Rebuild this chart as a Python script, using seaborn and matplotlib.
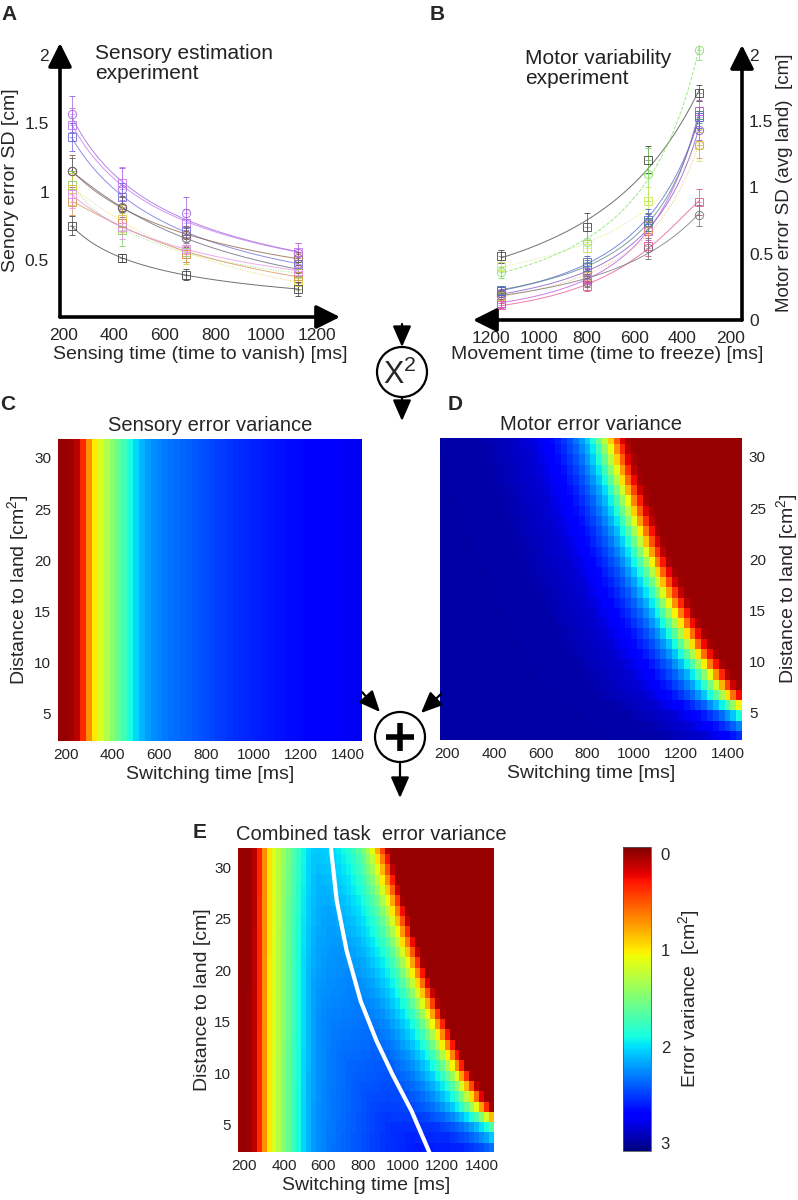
import numpy as np
import pandas as pd
import matplotlib
matplotlib.use("Agg")
import matplotlib.pyplot as plt
import seaborn as sns
from matplotlib.colors import Normalize
from matplotlib.cm import ScalarMappable
from matplotlib.patches import Circle

sns.set_style("white")
plt.rcParams['font.family'] = ['Liberation Sans', 'DejaVu Sans']
plt.rcParams['mathtext.fontset'] = 'custom'
plt.rcParams['mathtext.rm'] = 'Liberation Sans'
plt.rcParams['mathtext.it'] = 'Liberation Sans:italic'

# ---------------- Panel A : sensory estimation experiment ----------------
sense_times = [233, 433, 683, 1125]
sense_markers = ['o', 's', 's', 'o', 'o', 's', 's', 's', 's', 's']
sense_colors = ['#9a5fd6', '#c070f0', '#6a6ad8', '#8a5a40', '#606070',
                '#7fd65a', '#d8cc40', '#d89050', '#e090e8', '#404040']
sense_styles = ['-', '-', '-', '-', '-', ':', ':', '-', '-', '-']
sense_sd = [
    [1.57, 1.02, 0.84, 0.55],
    [1.49, 1.06, 0.77, 0.56],
    [1.40, 0.96, 0.71, 0.47],
    [1.15, 0.89, 0.68, 0.51],
    [1.15, 0.88, 0.66, 0.43],
    [1.05, 0.72, 0.56, 0.40],
    [1.02, 0.80, 0.54, 0.34],
    [0.92, 0.77, 0.54, 0.38],
    [0.98, 0.74, 0.58, 0.42],
    [0.75, 0.51, 0.39, 0.285],
]
sense_err = [
    [0.13, 0.15, 0.12, 0.07],
    [0.12, 0.12, 0.10, 0.06],
    [0.10, 0.10, 0.09, 0.06],
    [0.12, 0.08, 0.07, 0.05],
    [0.10, 0.08, 0.07, 0.05],
    [0.10, 0.12, 0.08, 0.05],
    [0.12, 0.10, 0.07, 0.06],
    [0.09, 0.08, 0.06, 0.05],
    [0.10, 0.09, 0.07, 0.05],
    [0.07, 0.03, 0.04, 0.05],
]

# ---------------- Panel B : motor variability experiment ----------------
move_times = [1160, 800, 545, 330]
move_markers = ['s', 'o', 's', 's', 'o', 's', 'o', 's', 'o', 's']
move_colors = ['#404040', '#80e060', '#c8e850', '#5060d8', '#8050c8',
               '#c050e0', '#e0a040', '#e05090', '#707070', '#508080']
move_styles = ['-', '--', ':', '-', '-', '-', ':', '-', '-', '-']
move_sd = [
    [0.48, 0.705, 1.21, 1.71],
    [0.36, 0.59, 1.10, 2.04],
    [0.41, 0.545, 0.90, 1.32],
    [0.22, 0.436, 0.755, 1.53],
    [0.20, 0.344, 0.73, 1.43],
    [0.13, 0.31, 0.67, 1.58],
    [0.18, 0.33, 0.67, 1.32],
    [0.11, 0.257, 0.56, 0.89],
    [0.19, 0.29, 0.54, 0.79],
    [0.23, 0.40, 0.74, 1.55],
]
move_err = [
    [0.05, 0.10, 0.10, 0.06],
    [0.04, 0.08, 0.20, 0.08],
    [0.04, 0.06, 0.10, 0.12],
    [0.03, 0.05, 0.08, 0.08],
    [0.03, 0.05, 0.07, 0.07],
    [0.03, 0.04, 0.07, 0.08],
    [0.03, 0.04, 0.08, 0.10],
    [0.02, 0.04, 0.08, 0.10],
    [0.03, 0.04, 0.08, 0.08],
    [0.03, 0.05, 0.07, 0.06],
]

# ---------------- Heat-map data ----------------
switch_times = [175, 200, 225, 250, 275, 300, 325, 350, 375, 400, 425, 450, 475,
                500, 525, 550, 575, 600, 625, 650, 675, 700, 725, 750, 775, 800,
                825, 850, 875, 900, 925, 950, 975, 1000, 1025, 1050, 1075, 1100,
                1125, 1150, 1175, 1200, 1225, 1250, 1275, 1300, 1325, 1350, 1375,
                1400, 1425, 1450]
# colour-scale value of sensory error variance per switching-time column
sensory_var = [0.00, 0.00, 0.02, 0.10, 0.35, 0.70, 1.00, 1.15, 1.30, 1.45, 1.60,
               1.75, 1.88, 2.02, 2.13, 2.20, 2.25, 2.28, 2.31, 2.33, 2.35, 2.37,
               2.39, 2.41, 2.43, 2.45, 2.47, 2.49, 2.51, 2.53, 2.55, 2.56, 2.57,
               2.58, 2.60, 2.61, 2.62, 2.63, 2.64, 2.65, 2.66, 2.67, 2.68, 2.69,
               2.70, 2.71, 2.72, 2.73, 2.74, 2.75, 2.76, 2.77]
distances = [2.75, 3.75, 4.75, 5.75, 6.75, 7.75, 8.75, 9.75, 10.75, 11.75, 12.75,
             13.75, 14.75, 15.75, 16.75, 17.75, 18.75, 19.75, 20.75, 21.75, 22.75,
             23.75, 24.75, 25.75, 26.75, 27.75, 28.75, 29.75, 30.75, 31.75]
# switching time at which the motor variance saturates (red edge), per distance row
motor_edge = [1700, 1630, 1570, 1500, 1445, 1410, 1378, 1348, 1320, 1294, 1270,
              1246, 1224, 1203, 1182, 1162, 1143, 1124, 1106, 1089, 1072, 1055,
              1040, 1025, 1010, 994, 980, 966, 953, 940]
# colour-scale value of motor variance versus time offset from that edge
motor_offset = [-1000, -600, -400, -300, -250, -200, -150, -125, -100, -75, -50, -25, 0, 25, 50]
motor_profile = [2.98, 2.96, 2.85, 2.68, 2.55, 2.38, 2.12, 1.93, 1.70, 1.40, 1.05, 0.65, 0.30, 0.05, 0.0]
motor_floor = 2.98

# optimal switching time curve (white line, panel E)
opt_dist = [31.8, 26.75, 21.9, 17.0, 13.1, 9.87, 6.3, 2.24]
opt_time = [638, 667, 717, 788, 869, 949, 1046, 1137]

# ---------------- build grids ----------------
st = np.array(switch_times, float)
C = np.tile(np.array(sensory_var), (len(distances), 1))
D = np.array([np.interp(st - e, motor_offset, motor_profile) for e in motor_edge])
E = np.clip(C + D - motor_floor, 0, 3)
x_edges = np.append(st - 12.5, st[-1] + 12.5)
dd = np.array(distances)
y_edges = np.append(dd - 0.5, dd[-1] + 0.5)

norm = Normalize(vmin=-0.07, vmax=3.08)
cmap = plt.get_cmap('jet_r')

W, H = 798, 1200
fig = plt.figure(figsize=(W / 100, H / 100), dpi=100)


def fa(l, t, r, b):
    return fig.add_axes([l / W, 1 - b / H, (r - l) / W, (b - t) / H])


def fit_curve(t, y):
    t = np.array(t, float); y = np.array(y, float)
    coef = np.polyfit(np.log(t), np.log(y), 2)
    tt = np.linspace(t.min(), t.max(), 120)
    return tt, np.exp(np.polyval(coef, np.log(tt)))


def draw_subjects(ax, times, sds, errs, colors, markers, styles):
    for sd, er, c, m, ls in zip(sds, errs, colors, markers, styles):
        tt, yy = fit_curve(times, sd)
        sns.lineplot(x=tt, y=yy, color=c, lw=0.7, ls=ls, ax=ax, alpha=0.75)
        ax.errorbar(times, sd, yerr=er, fmt=m, mfc='none', mec=c, ms=6, mew=0.7,
                    ecolor=c, elinewidth=0.6, capsize=2, alpha=0.85)
        ax.plot(times, sd, '+', color=c, ms=4, mew=0.5, alpha=0.7)


arrow_kw = dict(arrowstyle='-|>,head_length=0.9,head_width=0.45', lw=2.6, color='k',
                shrinkA=0, shrinkB=0, mutation_scale=16)

# ---- Panel A ----
axA = fa(60, 43, 340, 317)
draw_subjects(axA, sense_times, sense_sd, sense_err, sense_colors, sense_markers, sense_styles)
axA.set_xlim(187, 1292)
axA.set_ylim(0.08, 2.09)
for s in axA.spines.values():
    s.set_visible(False)
axA.annotate('', xy=(0, 1), xytext=(0, 0), xycoords='axes fraction', arrowprops=arrow_kw)
axA.annotate('', xy=(1, 0), xytext=(0, 0), xycoords='axes fraction', arrowprops=arrow_kw)
axA.set_xticks([200, 400, 600, 800, 1000, 1200])
axA.set_xticklabels(['200', '400', '600', '800', '1000', '1200'])
axA.set_yticks([0.5, 1, 1.5, 2])
axA.set_yticklabels(['0.5', '1', '1.5', '2'])
axA.tick_params(length=0, labelsize=12.5, pad=8)
axA.set_xlabel('Sensing time (time to vanish) [ms]', fontsize=14, labelpad=2)
axA.set_ylabel('Senory error SD [cm]', fontsize=14, labelpad=4)
axA.text(0.125, 0.995, 'Sensory estimation\nexperiment', transform=axA.transAxes,
         fontsize=15, va='top', ha='left', color='#222222', linespacing=1.05)

# ---- Panel B ----
axB = fa(473, 45, 742, 320)
draw_subjects(axB, move_times, move_sd, move_err, move_colors, move_markers, move_styles)
axB.set_xlim(1277, 151)
axB.set_ylim(0.02, 2.075)
for s in axB.spines.values():
    s.set_visible(False)
axB.annotate('', xy=(1, 1), xytext=(1, 0), xycoords='axes fraction', arrowprops=arrow_kw)
axB.annotate('', xy=(0, 0), xytext=(1, 0), xycoords='axes fraction', arrowprops=arrow_kw)
axB.yaxis.tick_right()
axB.yaxis.set_label_position('right')
axB.set_xticks([1200, 1000, 800, 600, 400, 200])
axB.set_xticklabels(['1200', '1000', '800', '600', '400', '200'])
axB.set_yticks([0, 0.5, 1, 1.5, 2])
axB.set_yticklabels(['0', '0.5', '1', '1.5', '2'])
axB.tick_params(axis='x', length=0, labelsize=12.5, pad=8)
axB.tick_params(axis='y', length=0, labelsize=12.5, pad=5)
axB.set_xlabel('Movement time (time to freeze) [ms]', fontsize=14, labelpad=0)
axB.set_ylabel('Motor error SD (avg land)  [cm]', fontsize=13.5, labelpad=2)
axB.text(0.193, 0.985, 'Motor variability\nexperiment', transform=axB.transAxes,
         fontsize=15, va='top', ha='left', color='#222222', linespacing=1.05)


def heat(ax, Z, title, right=False, ylab='Distance to land [cm$^2$]'):
    ax.pcolormesh(x_edges, y_edges, Z, cmap=cmap, norm=norm, shading='flat', rasterized=True)
    ax.set_xlim(168, 1462)
    ax.set_ylim(2.35, 31.85)
    for s in ax.spines.values():
        s.set_visible(False)
    ax.set_xticks([200, 400, 600, 800, 1000, 1200, 1400])
    ax.set_xticklabels(['200', '400', '600', '800', '1000', '1200', '1400'])
    ax.set_yticks([5, 10, 15, 20, 25, 30])
    ax.set_yticklabels(['5', '10', '15', '20', '25', '30'])
    ax.tick_params(length=0, labelsize=11, pad=5)
    if right:
        ax.yaxis.tick_right()
        ax.yaxis.set_label_position('right')
    ax.set_xlabel('Switching time [ms]', fontsize=14, labelpad=3)
    ax.set_ylabel(ylab, fontsize=14, labelpad=6 if right else 2)
    ax.set_title(title, fontsize=14.5, pad=6)


axC = fa(58, 439, 362, 741)
heat(axC, C, 'Sensory error variance')
axD = fa(440, 438, 742, 740)
heat(axD, D, 'Motor error variance', right=True)
axE = fa(238, 848, 494, 1152)
heat(axE, E, 'Combined task  error variance', ylab='Distance to land [cm]')
axE.set_title('Combined task  error variance', fontsize=14.5, pad=6, x=0.52)
sns.lineplot(x=opt_time, y=opt_dist, sort=False, color='white', lw=3, ax=axE)

# colourbar
cax = fa(623, 847, 651, 1151)
cb = fig.colorbar(ScalarMappable(norm=norm, cmap=cmap), cax=cax)
cax.invert_yaxis()
cb.set_ticks([0, 1, 2, 3])
cb.set_ticklabels(['0', '1', '2', '3'])
cb.outline.set_linewidth(0.6)
cb.outline.set_edgecolor('#555555')
cax.tick_params(length=0, labelsize=12, pad=7)
cb.set_label('Error variance  [cm$^2$]', fontsize=14, labelpad=4)

# panel letters
for lab, x, y in [('A', 9, 14), ('B', 437, 14), ('C', 8, 405), ('D', 455, 405), ('E', 200, 832)]:
    fig.text(x / W, 1 - y / H, lab, fontsize=15, fontweight='bold', ha='center', va='center')

# overlay for schematic operators
ov = fig.add_axes([0, 0, 1, 1], zorder=10)
ov.set_xlim(0, W)
ov.set_ylim(H, 0)
ov.axis('off')
ov.patch.set_alpha(0)
ak = dict(arrowstyle='-|>,head_length=0.8,head_width=0.35', lw=1.6, color='k',
          shrinkA=0, shrinkB=0, mutation_scale=16)
ov.add_patch(Circle((402, 372), 25, fill=False, lw=1.6, color='k'))
ov.text(400, 375, 'X$^2$', fontsize=22, ha='center', va='center')
ov.annotate('', xy=(402, 347), xytext=(402, 324), arrowprops=ak)
ov.annotate('', xy=(402, 421), xytext=(402, 397), arrowprops=ak)
ov.add_patch(Circle((400, 737), 25, fill=False, lw=1.6, color='k'))
ov.plot([386, 414], [737, 737], color='k', lw=4, solid_capstyle='butt')
ov.plot([400, 400], [723, 751], color='k', lw=4, solid_capstyle='butt')
ov.annotate('', xy=(380, 712), xytext=(362, 692), arrowprops=ak)
ov.annotate('', xy=(421, 713), xytext=(441, 694), arrowprops=ak)
ov.annotate('', xy=(400, 798), xytext=(400, 762), arrowprops=ak)

fig.savefig('out.png', dpi=100)
